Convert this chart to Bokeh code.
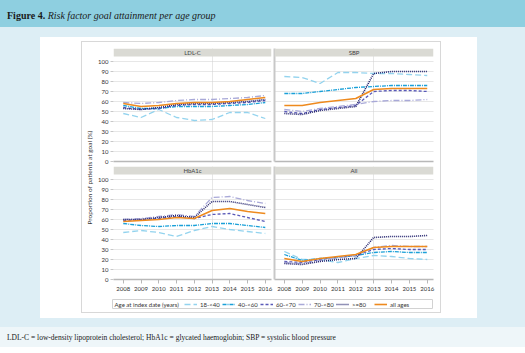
from math import pi
from bokeh.plotting import figure
from bokeh.layouts import column, row
from bokeh.models import Div, Legend, LegendItem, Label, FixedTicker, BoxAnnotation
from bokeh.embed import file_html
from bokeh.resources import INLINE

# ---------------- data ----------------
years = [2008, 2009, 2010, 2011, 2012, 2013, 2014, 2015, 2016]
groups = ["18-<40", "40-<60", "60-<70", "70-<80", ">=80", "all ages"]
panels = ["LDL-C", "SBP", "HbA1c", "All"]

ldl_18_40 = [48, 44, 52, 44, 41, 42, 49, 49, 43]
ldl_40_60 = [56, 53, 53, 55, 55, 55, 56, 57, 59]
ldl_60_70 = [54, 52, 53, 56, 57, 57, 58, 59, 61]
ldl_70_80 = [59, 58, 59, 61, 62, 62, 63, 64, 66]
ldl_80 = [53, 52, 54, 57, 58, 58, 59, 60, 62]
ldl_all = [58, 55, 56, 58, 59, 59, 60, 62, 64]

sbp_18_40 = [85, 84, 78, 89, 89, 88, 88, 87, 86]
sbp_40_60 = [68, 68, 70, 72, 74, 75, 76, 76, 76]
sbp_60_70 = [50, 48, 52, 54, 56, 70, 71, 71, 70]
sbp_70_80 = [52, 50, 53, 55, 57, 60, 61, 61, 62]
sbp_80 = [48, 47, 51, 53, 55, 88, 90, 90, 90]
sbp_all = [56, 56, 59, 61, 63, 72, 73, 73, 73]

hba_18_40 = [47, 49, 47, 43, 49, 53, 50, 48, 46]
hba_40_60 = [56, 54, 53, 54, 54, 56, 56, 54, 52]
hba_60_70 = [59, 60, 61, 63, 61, 65, 66, 62, 58]
hba_70_80 = [60, 61, 63, 65, 63, 82, 83, 79, 76]
hba_80 = [60, 60, 62, 64, 62, 78, 78, 75, 72]
hba_all = [58, 59, 60, 62, 61, 69, 71, 68, 66]

all_18_40 = [28, 20, 20, 17, 21, 24, 23, 21, 20]
all_40_60 = [25, 19, 21, 22, 24, 27, 28, 27, 27]
all_60_70 = [18, 17, 20, 22, 24, 30, 31, 30, 30]
all_70_80 = [17, 16, 19, 22, 24, 32, 34, 33, 33]
all_80 = [16, 15, 18, 20, 21, 42, 43, 43, 44]
all_all = [21, 18, 21, 23, 25, 32, 33, 33, 33]

y_ticks = [0, 10, 20, 30, 40, 50, 60, 70, 80, 90, 100]

series = {
    "LDL-C": [ldl_18_40, ldl_40_60, ldl_60_70, ldl_70_80, ldl_80, ldl_all],
    "SBP": [sbp_18_40, sbp_40_60, sbp_60_70, sbp_70_80, sbp_80, sbp_all],
    "HbA1c": [hba_18_40, hba_40_60, hba_60_70, hba_70_80, hba_80, hba_all],
    "All": [all_18_40, all_40_60, all_60_70, all_70_80, all_80, all_all],
}

# ---------------- styles ----------------
styles = [
    dict(line_color="#93d3ee", line_dash="6 3", line_width=1.3),
    dict(line_color="#1aa0d8", line_dash="4 1 1 1", line_width=1.3),
    dict(line_color="#5a5ab8", line_dash="3 2", line_width=1.3),
    dict(line_color="#a9a9d8", line_dash="6 2 1 2", line_width=1.3),
    dict(line_color="#25256f", line_dash="1 1", line_width=1.6),
    dict(line_color="#ee8a1e", line_width=1.6),
]
FONT = "Lato"
STRIP = "#dadad4"
X_RANGE = (2007.45, 2016.35)
Y_RANGE = (0, 113)
STRIP_BOTTOM = 105


def panel(name, left, bottom, width, height, mb):
    p = figure(width=width, height=height, x_range=X_RANGE, y_range=Y_RANGE,
               output_backend="svg", toolbar_location=None,
               min_border_left=mb[0], min_border_right=mb[1],
               min_border_top=mb[2], min_border_bottom=mb[3])
    p.outline_line_color = None
    p.background_fill_color = "white"
    p.border_fill_color = "white"
    p.ygrid.ticker = FixedTicker(ticks=y_ticks[1:])
    p.ygrid.grid_line_color = "#cfcfcf"
    p.ygrid.grid_line_dash = "1 1"
    p.xgrid.ticker = FixedTicker(ticks=[2013])
    p.xgrid.grid_line_color = "#cfcfcf"
    p.xgrid.grid_line_dash = "1 1"
    for vals, st in zip(series[name], styles):
        p.line(years, vals, **st)
    p.add_layout(BoxAnnotation(bottom=STRIP_BOTTOM, fill_color=STRIP, fill_alpha=1,
                               line_color=None))
    p.add_layout(Label(x=sum(X_RANGE) / 2, y=(STRIP_BOTTOM + Y_RANGE[1]) / 2, text=name,
                       text_align="center", text_baseline="middle", text_font=FONT,
                       text_font_size="6px", text_color="#444444"))
    # x axis
    xa = p.xaxis[0]
    xa.axis_line_color = "#b8b8b8"
    xa.axis_line_width = 1.4
    xa.major_label_text_font = FONT
    xa.minor_tick_line_color = None
    if bottom:
        xa.ticker = FixedTicker(ticks=years)
        xa.major_tick_line_color = "#b8b8b8"
        xa.major_tick_out = 4
        xa.major_tick_in = 0
        xa.major_label_text_font_size = "6px"
        xa.major_label_text_color = "#333333"
        xa.major_label_standoff = 3
    else:
        xa.ticker = FixedTicker(ticks=[])
        xa.major_tick_line_color = None
        xa.major_label_standoff = 0
    # y axis
    ya = p.yaxis[0]
    ya.minor_tick_line_color = None
    ya.major_label_text_font = FONT
    if left:
        ya.ticker = FixedTicker(ticks=y_ticks)
        ya.axis_line_color = None
        ya.major_tick_line_color = "#c8c8c8"
        ya.major_tick_out = 3
        ya.major_tick_in = 0
        ya.major_label_text_font_size = "6px"
        ya.major_label_text_color = "#333333"
        ya.major_label_standoff = 2
    else:
        ya.ticker = FixedTicker(ticks=[])
        ya.axis_line_color = "#c8c8c8"
        ya.axis_line_width = 2
        ya.major_tick_line_color = None
        ya.major_label_standoff = 0
    return p


p1 = panel("LDL-C", True, False, 178, 124, (17, 2, 6, 5))
p2 = panel("SBP", False, False, 167, 124, (1, 7, 6, 5))
p3 = panel("HbA1c", True, True, 178, 132, (17, 2, 0, 19))
p4 = panel("All", False, True, 167, 132, (1, 7, 0, 19))

# legend row (its lines hold the "All" series but lie outside this strip's ranges)
leg = figure(width=345, height=14, x_range=(0, 320), y_range=(0, 9),
             output_backend="svg", toolbar_location=None,
             min_border_left=17, min_border_right=8, min_border_top=1, min_border_bottom=4)
leg.axis.visible = False
leg.grid.visible = False
leg.outline_line_color = "#d2d2d2"
leg.border_fill_color = "white"
items = []
for g, vals, st in zip(groups, series["All"], styles):
    r = leg.line(years, vals, **st)
    items.append(LegendItem(label=g, renderers=[r]))
legend = Legend(items=items, orientation="horizontal", location=(72, 0),
                glyph_width=13, glyph_height=8, label_width=21, label_height=8,
                label_standoff=3, spacing=1, padding=0, margin=0,
                label_text_font=FONT, label_text_font_size="6px",
                label_text_color="#333333", border_line_color=None,
                background_fill_alpha=0)
leg.add_layout(legend)
leg.add_layout(Label(x=2, y=4.5, text="Age at index date (years)", text_font=FONT,
                     text_font_size="6px", text_baseline="middle", text_color="#333333"))

# y axis title
ylab = figure(width=13, height=270, x_range=(0, 1), y_range=(0, 1),
              output_backend="svg", toolbar_location=None,
              min_border_left=0, min_border_right=0, min_border_top=0, min_border_bottom=0)
ylab.axis.visible = False
ylab.grid.visible = False
ylab.outline_line_color = None
ylab.border_fill_color = "white"
ylab.add_layout(Label(x=0.5, y=0.5, text="Proportion of patients at goal (%)", angle=pi / 2,
                      text_align="center", text_baseline="middle", text_font=FONT,
                      text_font_size="6.5px", text_color="#333333"))

grid = column(row(p1, p2, spacing=0), row(p3, p4, spacing=0), leg, spacing=0)
inner = row(ylab, grid, width=358, height=270, spacing=0, margin=(5, 0, 0, 42),
            styles={"outline": "1px solid #d8d8d8", "background-color": "white"})
whitebox = column(inner, width=437, height=281, margin=(10, 0, 0, 40),
                  styles={"background-color": "white"})
mid = column(whitebox, width=525, height=300, margin=0,
             styles={"background-color": "#ddeef5"})

header = Div(text='<div style="padding:9px 0 0 7px;font-family:\'Liberation Serif\';'
                  'font-size:10px;color:#1a1a1a;white-space:nowrap">'
                  '<b>Figure 4.</b> <i>Risk factor goal attainment per age group</i></div>',
             width=525, height=27, margin=0, styles={"background-color": "#8ecfe0"})
caption = Div(text='<div style="padding:6px 0 0 7px;font-family:\'Liberation Serif\';'
                   'font-size:7.5px;color:#1a1a1a;white-space:nowrap">'
                   'LDL-C = low-density lipoprotein cholesterol; HbA1c = glycated haemoglobin; '
                   'SBP = systolic blood pressure</div>',
              width=525, height=20, margin=0, styles={"background-color": "#eef6f9"})

page = column(header, mid, caption, width=525, height=353, spacing=0, margin=0,
              styles={"background-color": "white"})

open("out.html", "w").write(file_html(page, INLINE))
